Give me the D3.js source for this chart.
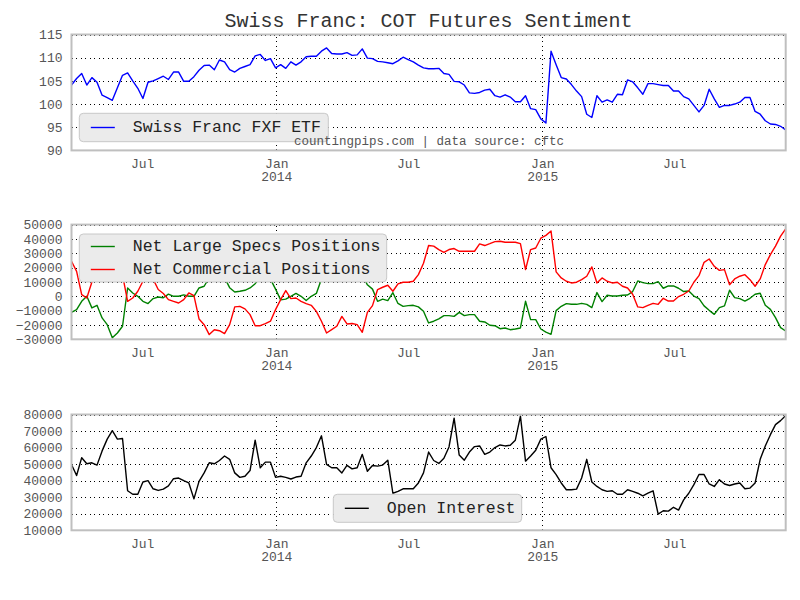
<!DOCTYPE html>
<html><head><meta charset="utf-8">
<script src="https://cdn.jsdelivr.net/npm/d3@7"></script>
<style>
body{margin:0;background:#fff}
text{font-family:"Liberation Mono","DejaVu Sans Mono",monospace}
</style>
</head><body>
<svg id="c" width="800" height="600"></svg>
<script>
// ---- data (weekly COT reports, Tuesdays) ----
const startDate = new Date(2013, 2, 26);
const endDate = new Date(2015, 11, 2);
const dates = d3.timeTuesday.range(startDate, endDate);

const fxf = [104.1,105.5,106.6,104.1,105.7,104.7,101.9,101.4,100.8,103.5,106.2,106.7,105,103.4,101.2,104.7,105,105.5,106,105.3,
106.9,106.9,104.9,104.9,105.9,107.3,108.3,108.4,107.4,109.5,109.1,107.4,106.9,107.7,108.1,108.5,110.4,110.7,109.4,109.8,
107.8,108.5,107.7,109.1,108.4,109.1,110.2,110.3,110.3,111.4,112.1,110.9,110.8,110.8,111.1,110.5,110.6,111.9,109.9,109.8,
109.2,109.1,108.9,108.7,109.3,110.1,109.6,109.1,108.4,107.8,107.6,107.6,107.7,106.6,106.4,104.9,104.8,104.1,102.4,102.3,
102.5,103,103.2,101.8,101.5,102,101.5,100.5,100.5,101.8,99,98.8,96.8,95.9,111.4,108.5,105.7,105.4,104.2,102.8,
101.6,97.8,97.1,101.8,100.4,100.9,100.4,102.1,102,105.2,104.8,103.5,102.1,104.4,104.4,104.2,104,104,102.8,102.8,
101.6,101.1,99.7,98.3,99.7,103.2,101.1,99.3,99.7,99.7,100,100.4,101.4,101.4,98.4,97.8,96.4,95.7,95.6,95.2,94.4];

const largeSpecs = [-11200,-9300,-3500,0,-8100,-6300,-15100,-19800,-29000,-25600,-20900,5800,2300,0,-3500,-5100,-1600,-500,-1000,1500,
0,0,1000,0,0,5800,7000,13000,15000,16000,13000,6000,3000,3500,4200,5800,8800,13000,15000,12000,
5000,-2500,-2000,0,2000,0,-3000,0,2000,12000,18000,22000,25000,22000,18000,20000,22000,15000,8000,5000,
-3500,-2000,-3000,2500,-5000,-7000,-6500,-6300,-7400,-10500,-18600,-17400,-15800,-13500,-13500,-14000,-11200,-13500,-12800,-12800,
-17400,-17900,-20200,-20500,-22600,-22100,-23300,-22800,-22100,-3500,-16300,-16300,-22800,-25000,-26500,-10000,-7000,-5100,-5600,-5600,
-4900,-5600,-7900,2600,-3700,700,200,200,700,900,3300,10700,9500,8800,8800,10200,5600,7200,7200,5600,
3300,3700,200,-1600,-6700,-9800,-12600,-7900,-6700,4200,-900,-1600,-3300,-1400,1400,2100,-6300,-9100,-14900,-21900,-24200];

const commercial = [24400,17400,1200,-1200,10000,16000,22000,25000,28000,25000,15000,-3500,-1200,3500,10500,13000,12000,4700,1900,-2300,
-3500,-4700,-2300,2300,500,-15800,-19800,-26700,-23300,-24000,-26000,-19800,-7400,-7000,-8800,-12800,-20500,-20500,-19000,-17400,
-9300,-2300,4000,-1600,-1200,-3500,-5100,-6300,-10500,-17400,-25600,-23300,-20900,-14000,-19300,-19000,-19800,-25100,-11200,-6500,
4700,6300,7700,3500,8600,9800,9800,10500,15100,23000,35400,35000,32600,30700,32600,33300,31400,31400,31400,31400,
36500,35400,36700,38100,38400,37700,37700,37700,36700,18600,32600,33700,40500,42500,45500,17000,12800,10500,9300,9800,
11600,14000,20500,9300,12800,10500,9300,9800,7000,5800,1400,-7400,-7900,-6300,-4900,-5600,-1400,-3300,-3300,-200,
1400,3700,9800,14400,23700,26000,20900,18100,18600,8100,12100,14000,15100,11600,7000,12100,22100,29100,35000,42000,47000];

const openInterest = [49800,43100,53900,50200,50800,49400,58000,65100,70200,65100,65500,33900,31800,31800,39200,40000,35100,34100,34900,36900,
41200,41600,40000,38600,29000,39600,44700,50800,50200,52200,54900,52900,44700,42000,42700,46100,64500,47800,51200,51200,
42000,42700,42000,41000,42200,42700,50800,54900,60000,67100,49800,47800,47800,44700,49200,47100,47800,55900,45700,49200,
48800,49400,52400,32400,33500,35100,35100,35100,38600,44700,57300,52200,50400,53500,60400,77800,55500,52400,57300,60600,
61000,55900,57300,60000,61600,61000,61400,64500,79000,51800,54900,58400,65100,66700,47800,43700,38600,34500,34500,34900,
41600,52900,39200,36500,34500,33500,33900,31800,31800,34500,33500,32400,30800,32400,33900,19800,21800,21600,23900,22200,
28400,32400,37600,43700,43700,38000,36500,40600,38000,37100,38000,38600,35100,35500,38600,52900,61000,67800,73900,76300,79400];

const xTicks = [new Date(2013,6,1), new Date(2014,0,1), new Date(2014,6,1), new Date(2015,0,1), new Date(2015,6,1)];
const yTicksTop = [90,95,100,105,110,115];
const yTicksMid = [-30000,-20000,-10000,0,10000,20000,30000,40000,50000];
const yTicksBot = [10000,20000,30000,40000,50000,60000,70000,80000];

const titleText = "Swiss Franc: COT Futures Sentiment";
const sourceText = "countingpips.com | data source: cftc";

// ---- layout ----
const svg = d3.select("#c");
const X0 = 71.5, X1 = 785.7;
const x = d3.scaleTime().domain([new Date(2013,2,26), new Date(2015,11,1)]).range([X0, X1]);

const panels = [
  {top:34.5, bottom:150.4, domain:[90,115], ticks:yTicksTop,
   series:[{name:"Swiss Franc FXF ETF", values:fxf, color:"#0000ff"}],
   legend:{x:79.3, y:113.3, w:249, h:28.4}},
  {top:224.6, bottom:339.3, domain:[-30000,50000], ticks:yTicksMid,
   series:[{name:"Net Large Specs Positions", values:largeSpecs, color:"#008000"},
           {name:"Net Commercial Positions", values:commercial, color:"#ff0000"}],
   legend:{x:79.3, y:234, w:307.4, h:48}},
  {top:414.5, bottom:530.3, domain:[10000,80000], ticks:yTicksBot,
   series:[{name:"Open Interest", values:openInterest, color:"#000000"}],
   legend:{x:333.3, y:494.3, w:188.4, h:28}}
];

svg.append("text").attr("x", (X0+X1)/2).attr("y", 22).attr("text-anchor","middle")
  .attr("dominant-baseline","middle").attr("font-size","20px").attr("fill","#333")
  .text(titleText);

panels.forEach((p, pi) => {
  const y = d3.scaleLinear().domain(p.domain).range([p.bottom, p.top]);
  const g = svg.append("g");

  // horizontal grid
  g.append("g").attr("transform", `translate(${X0},0)`)
    .call(d3.axisLeft(y).tickValues(p.ticks).tickSize(-(X1-X0)).tickFormat(""))
    .call(s => s.select(".domain").remove())
    .call(s => s.selectAll("line").attr("stroke","#000").attr("stroke-width",1)
       .attr("stroke-dasharray","1,3.5").attr("shape-rendering","crispEdges"));
  // vertical grid (major Jan ticks)
  g.append("g").attr("transform", `translate(0,${p.bottom})`)
    .call(d3.axisBottom(x).tickValues(xTicks.filter(d => d.getMonth()===0)).tickSize(-(p.bottom-p.top)).tickFormat(""))
    .call(s => s.select(".domain").remove())
    .call(s => s.selectAll("line").attr("stroke","#000").attr("stroke-width",1)
       .attr("stroke-dasharray","1,3.5").attr("shape-rendering","crispEdges"));

  // y labels
  g.append("g").attr("transform", `translate(${X0},0)`)
    .call(d3.axisLeft(y).tickValues(p.ticks).tickSize(0).tickPadding(9).tickFormat(d3.format("d")))
    .call(s => s.select(".domain").remove())
    .call(s => s.selectAll("text").attr("font-size","13px").attr("fill","#555")
       .attr("font-family",'"Liberation Mono",monospace'));

  // x labels
  const xa = g.append("g").attr("transform", `translate(0,${p.bottom})`)
    .call(d3.axisBottom(x).tickValues(xTicks).tickSize(0).tickPadding(8)
      .tickFormat(d => d.getMonth()===0 ? "Jan" : "Jul"))
    .call(s => s.select(".domain").remove());
  xa.selectAll("text").attr("font-size","13px").attr("fill","#555")
    .attr("font-family",'"Liberation Mono",monospace')
    .each(function(d){
      if (d.getMonth()===0) {
        d3.select(this).append("tspan").attr("x",0).attr("dy","1.05em").text(d.getFullYear());
      }
    });

  // lines
  p.series.forEach(s => {
    const line = d3.line().x((d,i) => x(dates[i])).y(d => y(d));
    g.append("path").datum(s.values).attr("d", line).attr("fill","none")
      .attr("stroke", s.color).attr("stroke-width",1.4).attr("stroke-linejoin","round");
  });

  // frame
  g.append("rect").attr("x",X0).attr("y",p.top).attr("width",X1-X0).attr("height",p.bottom-p.top)
    .attr("fill","none").attr("stroke","#bfbfbf").attr("stroke-width",2);

  // legend
  const L = p.legend;
  const lg = g.append("g");
  lg.append("rect").attr("x",L.x).attr("y",L.y).attr("width",L.w).attr("height",L.h).attr("rx",4)
    .attr("fill","#ebebeb").attr("stroke","#c8c8c8").attr("stroke-width",1);
  const n = p.series.length;
  const rowH = 23;
  const firstY = L.y + L.h/2 - (n-1)*rowH/2;
  p.series.forEach((s, i) => {
    const cy = firstY + i*rowH;
    lg.append("line").attr("x1",L.x+11.5).attr("x2",L.x+35.5).attr("y1",cy).attr("y2",cy)
      .attr("stroke",s.color).attr("stroke-width",1.4);
    lg.append("text").attr("x",L.x+53.5).attr("y",cy).attr("dominant-baseline","central")
      .attr("font-size","16.5px").attr("fill","#222").text(s.name);
  });

  if (pi === 0) {
    g.append("text").attr("x",294).attr("y",142).attr("dominant-baseline","central")
      .attr("font-size","12.5px").attr("fill","#555").text(sourceText);
  }
});
</script>
</body></html>
